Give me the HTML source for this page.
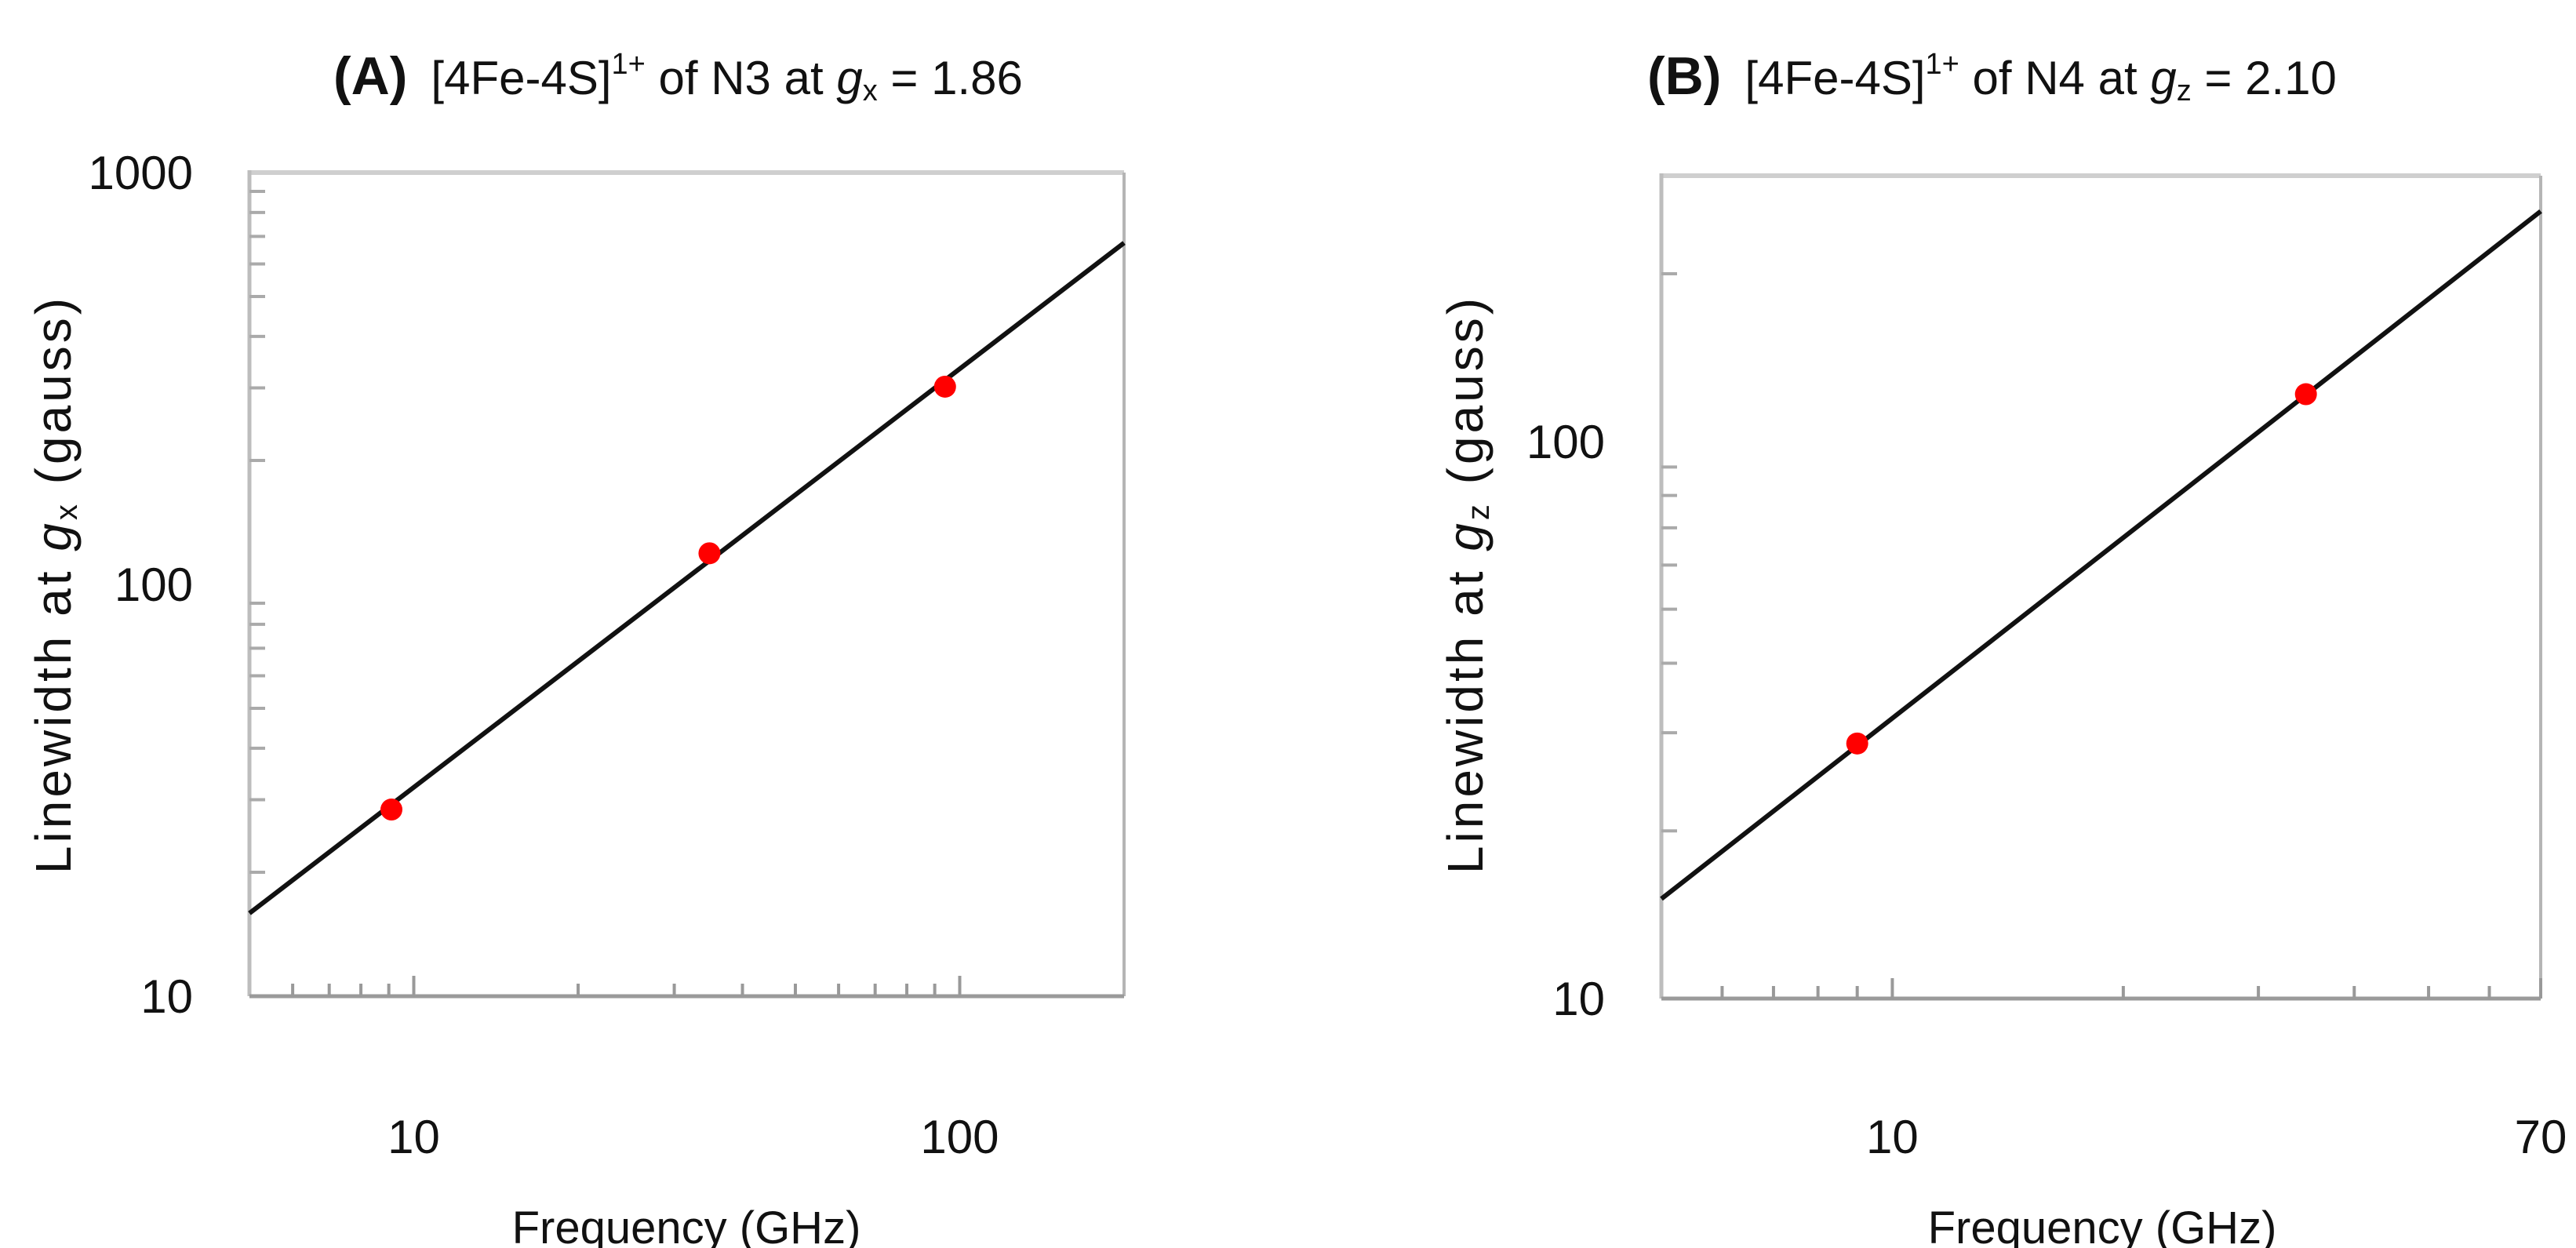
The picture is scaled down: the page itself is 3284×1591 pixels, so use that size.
<!DOCTYPE html>
<html><head><meta charset="utf-8"><style>
html,body{margin:0;padding:0;background:#fff}
svg{display:block}
text{font-family:"Liberation Sans","DejaVu Sans",sans-serif;fill:#111}
</style></head><body>
<svg id="chart" width="3284" height="1591" viewBox="0 0 3284 1591" xmlns="http://www.w3.org/2000/svg">
<g id="pa"></g>
<g id="pb"></g>
</svg>
<script>
// Panel A data
const freqA = [9.1, 34.8, 94];
const widthA = [28.4, 119, 302];
const fitFreqA = [5, 200];
const fitWidthA = [15.9, 675];
const xTicksA = [10, 100];
const xTickLabelsA = ["10", "100"];
const yTicksA = [10, 100, 1000];
const yTickLabelsA = ["10", "100", "1000"];
// Panel B data
const freqB = [9.0, 34.6];
const widthB = [28.7, 121.6];
const fitFreqB = [5, 70];
const fitWidthB = [15.1, 259];
const xTicksB = [10, 70];
const xTickLabelsB = ["10", "70"];
const yTicksB = [10, 100];
const yTickLabelsB = ["10", "100"];

const NS = "http://www.w3.org/2000/svg";
function mk(parent, tag, attrs){const e=document.createElementNS(NS,tag);for(const k in attrs)e.setAttribute(k,attrs[k]);parent.appendChild(e);return e;}
function minors(lo,hi){const r=[];for(let d=Math.pow(10,Math.floor(Math.log10(lo)));d<hi;d*=10){for(let m=1;m<10;m++){const v=m*d;if(v>lo+1e-9&&v<hi-1e-9&&m!==1)r.push(v);}}return r;}

function panel(g, cfg){
  const L=cfg.L,R=cfg.R,T=cfg.T,B=cfg.B;
  const lx0=Math.log10(cfg.xmin),lx1=Math.log10(cfg.xmax),ly0=Math.log10(cfg.ymin),ly1=Math.log10(cfg.ymax);
  const X=v=>L+(Math.log10(v)-lx0)/(lx1-lx0)*(R-L);
  const Y=v=>B-(Math.log10(v)-ly0)/(ly1-ly0)*(B-T);
  let e;
  e=mk(g,'line',{x1:L,y1:T,x2:R,y2:T,stroke:'#cfcfcf','stroke-width':6});
  
  
  e=mk(g,'line',{x1:R,y1:T,x2:R,y2:B,stroke:'#b5b5b5','stroke-width':4});
  
  
  e=mk(g,'line',{x1:L,y1:T-3,x2:L,y2:B,stroke:'#bdbdbd','stroke-width':5});
  
  
  e=mk(g,'line',{x1:L,y1:B,x2:R,y2:B,stroke:'#9a9a9a','stroke-width':5});
  
  
  minors(cfg.xmin,cfg.xmax).forEach(v=>{
    const t=mk(g,'line',{x1:X(v),y1:B,x2:X(v),y2:B-16,stroke:'#999','stroke-width':4});
    
    
  });
  cfg.xTicks.forEach(v=>{
    const t=mk(g,'line',{x1:X(v),y1:B,x2:X(v),y2:B-26,stroke:'#999','stroke-width':4});
    
    
  });
  minors(cfg.ymin,cfg.ymax).forEach(v=>{
    const t=mk(g,'line',{x1:L,y1:Y(v),x2:L+20,y2:Y(v),stroke:'#aaa','stroke-width':4});
    
    
  });
  cfg.xTicks.forEach((v,i)=>{
    const t=mk(g,'text',{x:X(v),y:1470,'font-size':60,'text-anchor':'middle'});
    t.textContent=cfg.xLabels[i];
    
    
  });
  cfg.yTicks.forEach((v,i)=>{
    const t=mk(g,'text',{x:L-72,y:Y(v)+21,'font-size':60,'text-anchor':'end'});
    t.textContent=cfg.yLabels[i];
    
    
  });
  e=mk(g,'line',{x1:X(cfg.fx[0]),y1:Y(cfg.fy[0]),x2:X(cfg.fx[1]),y2:Y(cfg.fy[1]),stroke:'#111','stroke-width':6});
  
  
  cfg.px.forEach((v,i)=>{
    const c=mk(g,'circle',{cx:X(v),cy:Y(cfg.py[i]),r:14,fill:'#ff0000'});
    
    
  });
}

const A=document.getElementById('pa'), Bp=document.getElementById('pb');
panel(A,{L:318,R:1433,T:220,B:1270,xmin:5,xmax:200,ymin:10,ymax:1000,xTicks:xTicksA,xLabels:xTickLabelsA,yTicks:yTicksA,yLabels:yTickLabelsA,fx:fitFreqA,fy:fitWidthA,px:freqA,py:widthA});
panel(Bp,{L:2118,R:3239,T:224,B:1273,xmin:5,xmax:70,ymin:10,ymax:300,xTicks:xTicksB,xLabels:xTickLabelsB,yTicks:yTicksB,yLabels:yTickLabelsB,fx:fitFreqB,fy:fitWidthB,px:freqB,py:widthB});
</script>
<svg style="position:absolute;left:0;top:0" width="3284" height="1591" viewBox="0 0 3284 1591" xmlns="http://www.w3.org/2000/svg">
<text x="425" y="120" font-size="60"><tspan font-weight="bold" font-size="68">(A)</tspan><tspan dx="30">[4Fe-4S]</tspan><tspan font-size="38" dy="-26">1+</tspan><tspan dy="26"> of N3 at </tspan><tspan font-style="italic">g</tspan><tspan font-size="38" dy="8">x</tspan><tspan dy="-8"> = 1.86</tspan></text>
<text x="2100" y="120" font-size="60"><tspan font-weight="bold" font-size="68">(B)</tspan><tspan dx="30">[4Fe-4S]</tspan><tspan font-size="38" dy="-26">1+</tspan><tspan dy="26"> of N4 at </tspan><tspan font-style="italic">g</tspan><tspan font-size="38" dy="8">z</tspan><tspan dy="-8"> = 2.10</tspan></text>
<text transform="translate(90,745) rotate(-90)" text-anchor="middle" font-size="64" letter-spacing="4">Linewidth at <tspan font-style="italic">g</tspan><tspan font-size="40" dy="8">x</tspan><tspan dy="-8"> (gauss)</tspan></text>
<text transform="translate(1890,745) rotate(-90)" text-anchor="middle" font-size="64" letter-spacing="4">Linewidth at <tspan font-style="italic">g</tspan><tspan font-size="40" dy="8">z</tspan><tspan dy="-8"> (gauss)</tspan></text>
<text x="875" y="1585" text-anchor="middle" font-size="58">Frequency (GHz)</text>
<text x="2680" y="1585" text-anchor="middle" font-size="58">Frequency (GHz)</text>
</svg>
</body></html>
